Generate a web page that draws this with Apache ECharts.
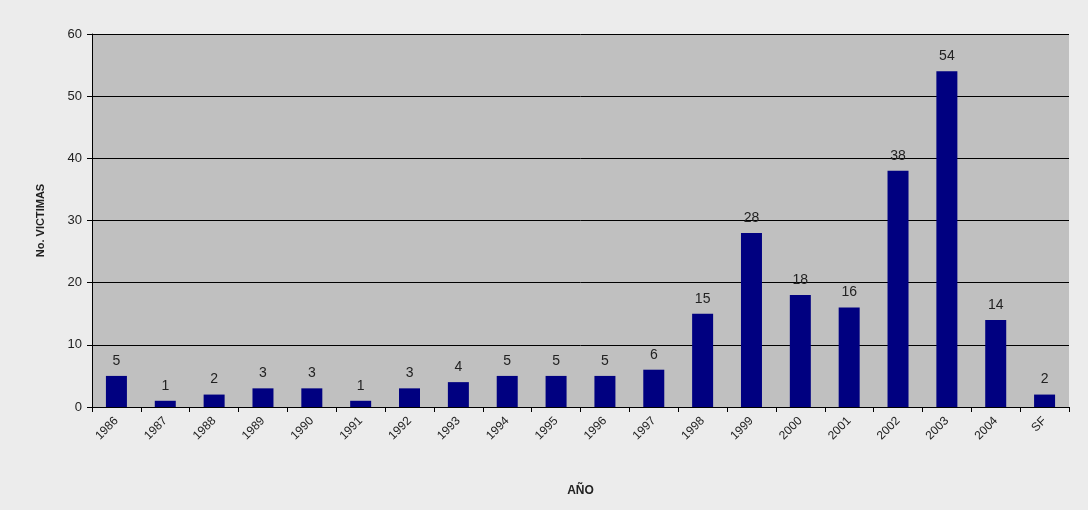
<!DOCTYPE html>
<html><head><meta charset="utf-8">
<script src="https://cdn.jsdelivr.net/npm/echarts@6/dist/echarts.min.js"></script>
<style>html,body{margin:0;padding:0;background:#ececec}#c{width:1088px;height:510px}</style>
</head><body><div id="c"></div>
<script>
const categories = ['1986','1987','1988','1989','1990','1991','1992','1993','1994','1995','1996','1997','1998','1999','2000','2001','2002','2003','2004','SF'];
const victimas = [5,1,2,3,3,1,3,4,5,5,5,6,15,28,18,16,38,54,14,2];
const yTicks = {min:0, max:60, interval:10};

const chart = echarts.init(document.getElementById('c'));
chart.setOption({
  backgroundColor:'#ececec',
  animation:false,
  grid:{left:92, top:34, right:19, bottom:103, show:true, backgroundColor:'#c0c0c0', borderWidth:0},
  xAxis:{type:'category', data:categories,
    name:'AÑO', nameLocation:'middle', nameGap:78,
    nameTextStyle:{fontFamily:'Liberation Sans', fontSize:12, fontWeight:'bold', color:'#222'},
    axisLine:{lineStyle:{color:'#000', width:1}},
    axisTick:{show:true, alignWithLabel:false, length:5, lineStyle:{color:'#000'}},
    axisLabel:{rotate:45, fontFamily:'Liberation Sans', fontSize:12, color:'#222', margin:12, interval:0}
  },
  yAxis:{type:'value', min:yTicks.min, max:yTicks.max, interval:yTicks.interval,
    name:'No. VICTIMAS', nameLocation:'middle', nameGap:46, nameRotate:90,
    nameTextStyle:{fontFamily:'Liberation Sans', fontSize:11, fontWeight:'bold', color:'#222'},
    axisLine:{show:true, lineStyle:{color:'#000'}},
    axisTick:{show:true, length:5, lineStyle:{color:'#000'}},
    axisLabel:{fontFamily:'Liberation Sans', fontSize:13, color:'#222', margin:10},
    splitLine:{show:true, lineStyle:{color:'#000', width:1}}
  },
  series:[{type:'bar', data:victimas, barWidth:21,
    itemStyle:{color:'#000080'},
    label:{show:true, position:'top', distance:8, fontFamily:'Liberation Sans', fontSize:14, color:'#222'}
  }]
});
</script></body></html>
